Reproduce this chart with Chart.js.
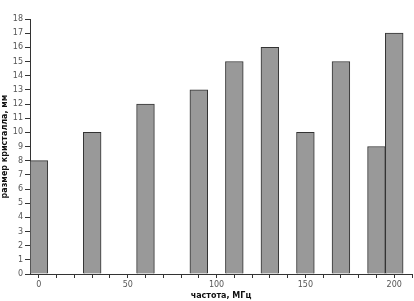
<!DOCTYPE html>
<html>
<head>
<meta charset="utf-8">
<script src="https://cdn.jsdelivr.net/npm/chart.js@4/dist/chart.umd.min.js"></script>
<style>
  html, body { margin: 0; padding: 0; background: #fff; }
  #wrap { width: 414px; height: 301px; }
</style>
</head>
<body>
<div id="wrap"><canvas id="myChart"></canvas></div>
<script>
// частота, МГц
let frecuencias = [0, 30, 60, 90, 110, 130, 150, 170, 190, 200];
// размер кристалла, мм
let tamanos = [8, 10, 12, 13, 15, 16, 10, 15, 9, 17];
let etiquetasX = [0, 50, 100, 150, 200];

const ctx = document.getElementById('myChart');

function start_chart() {
  let puntos = frecuencias.map((f, i) => ({ x: f, y: tamanos[i] }));
  const fuente = { family: 'DejaVu Sans', size: 8 };
  const config = {
    type: 'bar',
    data: {
      datasets: [{
        label: 'размер кристалла',
        data: puntos,
        backgroundColor: '#999999',
        borderColor: '#333333',
        borderWidth: 1,
        barPercentage: 1,
        categoryPercentage: 1
      }]
    },
    options: {
      responsive: true,
      maintainAspectRatio: false,
      animation: false,
      layout: { padding: { top: 19, right: 1, left: 0, bottom: 0 } },
      plugins: {
        legend: { display: false },
        tooltip: { enabled: false }
      },
      scales: {
        x: {
          type: 'linear',
          min: -5,
          max: 210,
          offset: false,
          border: { display: true, color: '#333', width: 1 },
          grid: { drawOnChartArea: false, drawTicks: true, tickLength: 4, color: '#333', offset: false },
          ticks: {
            stepSize: 10,
            autoSkip: false,
            includeBounds: false,
            maxRotation: 0,
            padding: 2,
            color: '#555',
            font: fuente,
            callback: v => etiquetasX.includes(v) ? String(v) : ''
          },
          title: {
            display: true,
            text: 'частота, МГц',
            color: '#111',
            font: { family: 'DejaVu Sans', size: 8, weight: 'bold' },
            padding: { top: 0, bottom: 0 }
          },
          afterFit: s => { s.height = 27; }
        },
        y: {
          min: 0,
          max: 18,
          border: { display: true, color: '#333', width: 1 },
          grid: { drawOnChartArea: false, drawTicks: true, tickLength: 5, color: '#333' },
          ticks: {
            stepSize: 1,
            autoSkip: false,
            padding: 2,
            color: '#555',
            font: fuente
          },
          title: {
            display: true,
            text: 'размер кристалла, мм',
            color: '#111',
            font: { family: 'DejaVu Sans', size: 8, weight: 'bold' },
            padding: { top: 0, bottom: 0 }
          },
          afterFit: s => { s.width = 30; }
        }
      }
    }
  };
  new Chart(ctx, config);
}

window.addEventListener('load', start_chart);
</script>
</body>
</html>
